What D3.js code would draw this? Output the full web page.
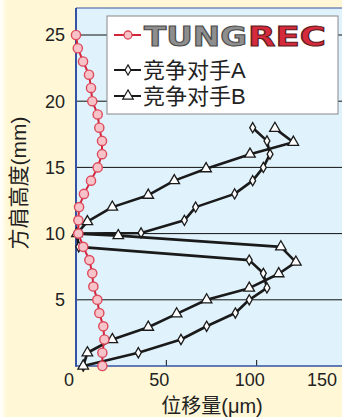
<!DOCTYPE html>
<html><head><meta charset="utf-8">
<script src="https://cdn.jsdelivr.net/npm/d3@7"></script>
<style>html,body{margin:0;padding:0;background:#fff7d6;}svg{display:block;}</style>
</head><body>
<script>
// ---- data ----
const tungX = [14.6,14.6,15.7,15.1,12.9,11.8,9.6,9.0,7.4,4.0,1.3,1.3,1.7,4.4,8.3,12.0,14.4,14.4,12.9,12.0,9.0,8.3,7.2,3.9,1.0,0.0];
const tungY = [0,1,2,3,4,5,6,7,8,9,10,11,12,13,14,15,16,17,18,19,20,21,22,23,24,25];
const aX = [4,34.5,58.1,72.3,88.2,95.9,105.7,103.7,95.9,1.5,0.5,36,60,66.2,87.8,97.8,103.7,107.4,105.7,97.8];
const aY = [0,1,2,3,4,5,5.9,7,8,9,10,10.05,11,12,13,14,15,16,17,18];
const bX = [4,6.3,20.1,40,55.7,72.3,95.9,112.2,121.7,113.4,23.4,0.5,6.3,20.1,40,54.4,72,96.3,120.3,110.1];
const bY = [0,1,2,2.93,3.94,5,5.88,6.97,7.85,9,9.85,10,10.9,12,12.9,14,14.9,16,16.9,17.95];
const xTicks = [0,50,100,150];
const yTicks = [5,10,15,20,25];
const seriesNames = ["TUNGREC","竞争对手A","竞争对手B"];
const xTitle = "位移量(μm)";
const yTitle = "方肩高度(mm)";

const W = 342, H = 417;
const svg = d3.select("body").append("svg").attr("width", W).attr("height", H);
const defs = svg.append("defs");
const g0 = defs.append("linearGradient").attr("id","edge").attr("x1","0").attr("x2","1");
g0.append("stop").attr("offset","0").attr("stop-color","#ffffff");
g0.append("stop").attr("offset","1").attr("stop-color","#fff7d6");

svg.append("rect").attr("width",W).attr("height",H).attr("fill","#fff7d6");
svg.append("rect").attr("width",7).attr("height",H).attr("fill","url(#edge)");

const L = 76, T = 8, R = 342, B = 366;
const x = d3.scaleLinear().domain([0,150]).range([L, 347]);
const y = d3.scaleLinear().domain([0,25]).range([B, 35]);

// plot background
svg.append("rect").attr("x",L).attr("y",T).attr("width",R-L).attr("height",B-T).attr("fill","#e0f2fb");

// gridlines
svg.append("g").selectAll("line").data(yTicks).join("line")
  .attr("x1",L).attr("x2",R).attr("y1",d=>y(d)).attr("y2",d=>y(d))
  .attr("stroke","#111").attr("stroke-width",1);

// x inner ticks
svg.append("g").selectAll("line").data(xTicks.filter(d=>d>0 && d<150)).join("line")
  .attr("x1",d=>x(d)).attr("x2",d=>x(d)).attr("y1",B).attr("y2",B-6)
  .attr("stroke","#111").attr("stroke-width",1);

// frame
svg.append("line").attr("x1",L).attr("x2",R).attr("y1",T).attr("y2",T).attr("stroke","#3552a3").attr("stroke-width",1.2);
svg.append("line").attr("x1",L).attr("x2",R).attr("y1",B).attr("y2",B).attr("stroke","#3552a3").attr("stroke-width",1.6);
svg.append("line").attr("x1",L).attr("x2",L).attr("y1",T).attr("y2",B+0.8).attr("stroke","#3552a3").attr("stroke-width",2);

const font = "'Liberation Sans','Noto Sans CJK SC',sans-serif";
// tick labels
svg.append("g").selectAll("text").data(yTicks).join("text")
  .attr("x",65).attr("y",d=>y(d)).attr("dy","0.36em").attr("text-anchor","end")
  .attr("font-family","'Liberation Sans',Arial,sans-serif").attr("font-size",18).attr("fill","#222").text(d=>d);
svg.append("g").selectAll("text").data(xTicks).join("text")
  .attr("x",d=>Math.min(x(d)-7, W-20)).attr("y",386).attr("text-anchor","middle")
  .attr("font-family","'Liberation Sans',Arial,sans-serif").attr("font-size",18).attr("fill","#222").text(d=>d);

// axis titles
svg.append("text").attr("x",212).attr("y",413).attr("text-anchor","middle")
  .attr("font-family",font).attr("font-size",20).attr("fill","#222").text(xTitle);
svg.append("text").attr("transform","translate(26,183) rotate(-90)").attr("text-anchor","middle")
  .attr("font-family",font).attr("font-size",21).attr("fill","#222").text(yTitle);

const line = d3.line().x(d=>x(d[0])).y(d=>y(d[1]));
const ptsA = aX.map((v,i)=>[v,aY[i]]);
const ptsB = bX.map((v,i)=>[v,bY[i]]);
const ptsT = tungX.map((v,i)=>[v,tungY[i]]);

const diamond = d3.symbol().type(d3.symbolDiamond).size(30);
const tri = d3.symbol().type(d3.symbolTriangle).size(48);

function drawBlack(pts, sym){
  svg.append("path").attr("d",line(pts)).attr("fill","none").attr("stroke","#1a1a1a").attr("stroke-width",2.6).attr("stroke-linejoin","round");
  svg.append("g").selectAll("path").data(pts).join("path")
    .attr("d",sym).attr("transform",d=>`translate(${x(d[0])},${y(d[1])})`)
    .attr("fill","#fff").attr("stroke","#1a1a1a").attr("stroke-width",1.3);
}
drawBlack(ptsA, diamond);
drawBlack(ptsB, tri);

svg.append("path").attr("d",line(ptsT)).attr("fill","none").attr("stroke","#d3243b").attr("stroke-width",2);
svg.append("g").selectAll("circle").data(ptsT).join("circle")
  .attr("cx",d=>x(d[0])).attr("cy",d=>y(d[1])).attr("r",4.6)
  .attr("fill","#f7c3c8").attr("stroke","#dd4a5c").attr("stroke-width",1.4);

// legend
const lg = svg.append("g");
lg.append("rect").attr("x",107).attr("y",16).attr("width",231).attr("height",98)
  .attr("fill","#fff").attr("stroke","#888").attr("stroke-width",1);
// entry 1
lg.append("line").attr("x1",114).attr("x2",141).attr("y1",35).attr("y2",35).attr("stroke","#d3243b").attr("stroke-width",2);
lg.append("circle").attr("cx",128).attr("cy",35).attr("r",4).attr("fill","#f7c3c8").attr("stroke","#dd4a5c").attr("stroke-width",1.3);
lg.append("text").attr("x",144).attr("y",46).attr("textLength",103).attr("lengthAdjust","spacingAndGlyphs")
  .attr("font-family","'DejaVu Sans',sans-serif").attr("font-weight","bold").attr("font-size",26)
  .attr("fill","#8e8e8e").attr("stroke","#4a4a4a").attr("stroke-width",1).text(seriesNames[0].slice(0,4));
lg.append("text").attr("x",248).attr("y",46).attr("textLength",78).attr("lengthAdjust","spacingAndGlyphs")
  .attr("font-family","'DejaVu Sans',sans-serif").attr("font-weight","bold").attr("font-size",26)
  .attr("fill","#d42a3c").attr("stroke","#5a1a20").attr("stroke-width",1).text(seriesNames[0].slice(4));
// entry 2 & 3
[[seriesNames[1],70,diamond],[seriesNames[2],96,tri]].forEach(([name,yy,sym])=>{
  lg.append("line").attr("x1",114).attr("x2",141).attr("y1",yy).attr("y2",yy).attr("stroke","#1a1a1a").attr("stroke-width",2);
  lg.append("path").attr("d",sym).attr("transform",`translate(128,${yy})`).attr("fill","#fff").attr("stroke","#1a1a1a").attr("stroke-width",1.2);
  lg.append("text").attr("x",143).attr("y",yy+8).attr("font-family",font).attr("font-size",22).attr("fill","#222").text(name);
});
</script>
</body></html>
